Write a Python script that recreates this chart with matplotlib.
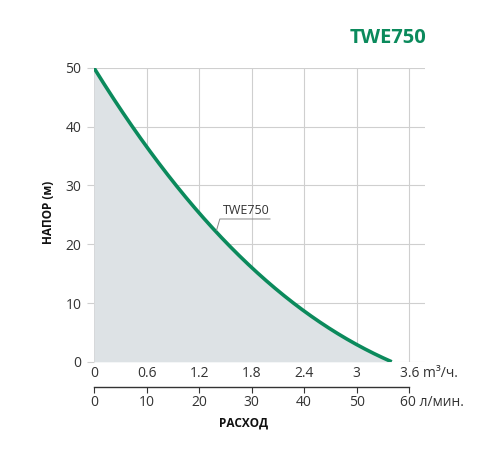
import matplotlib
matplotlib.use("Agg")
import matplotlib.pyplot as plt
import matplotlib.transforms as mtransforms
import numpy as np

# -----------------------------
# Данные кривой (м³/ч -> напор, м)
# -----------------------------
flow_m3h = [0.0, 0.3, 0.6, 0.9, 1.2, 1.5, 1.8, 2.1, 2.4, 2.7, 3.0, 3.2, 3.4]
head_m = [50.0, 43.2, 36.4, 30.7, 25.6, 20.6, 16.2, 12.2, 8.5, 5.7, 3.2, 1.8, 0.0]

x_ticks = [0, 0.6, 1.2, 1.8, 2.4, 3.0, 3.6]
x_labels = ["0", "0.6", "1.2", "1.8", "2.4", "3", "3.6 m³/ч."]
lmin_ticks = [0, 10, 20, 30, 40, 50, 60]
lmin_labels = ["0", "10", "20", "30", "40", "50", "60 л/мин."]
y_ticks = [0, 10, 20, 30, 40, 50]

MODEL = "TWE750"
GREEN = "#0b8a5c"
FILL = "#dde2e5"
GRID = "#cfcfcf"
TEXT = "#333333"

plt.rcParams["font.family"] = ["Open Sans", "DejaVu Sans"]

XMAX = 3.78


def shift_last_label(fig, axis_labels, dx_pt):
    lbl = axis_labels[-1]
    lbl.set_horizontalalignment("left")
    lbl.set_transform(lbl.get_transform()
                      + mtransforms.ScaledTranslation(dx_pt / 72, 0, fig.dpi_scale_trans))


def main():
    fig = plt.figure(figsize=(5, 4.5), dpi=100)
    ax = fig.add_axes([0.188, 0.196, 0.662, 0.653])

    # гладкая кривая по точкам
    xs = np.linspace(0, 3.4, 300)
    coef = np.polyfit(flow_m3h, head_m, 4)
    ys = np.polyval(coef, xs)
    ys = ys - np.linspace(0, 1, xs.size) * ys[-1]  # довести конец до нуля
    ys = np.clip(ys, 0, None)
    ax.fill_between(xs, ys, 0, color=FILL, lw=0, zorder=1)
    ax.plot(xs, ys, color=GREEN, lw=2.6, solid_capstyle="butt", zorder=3)

    ax.set_xlim(0, XMAX)
    ax.set_ylim(0, 50)
    ax.set_xticks(x_ticks)
    ax.set_xticklabels(x_labels)
    ax.set_yticks(y_ticks)
    ax.grid(True, color=GRID, lw=0.8, zorder=0)
    ax.set_axisbelow(True)
    for s in ax.spines.values():
        s.set_visible(False)
    ax.tick_params(axis="y", length=5, color=GRID, labelsize=10, labelcolor=TEXT, pad=4)
    ax.tick_params(axis="x", length=0, labelsize=10, labelcolor=TEXT, pad=3)
    shift_last_label(fig, ax.get_xticklabels(), -7)

    # подпись кривой
    ax.text(1.47, 24.7, MODEL, fontsize=9, color=TEXT, va="bottom", zorder=4)
    ax.plot([1.40, 1.437, 2.01], [22.4, 24.3, 24.3], color="#888888", lw=0.7, zorder=4)

    # вторая шкала л/мин
    ax2 = fig.add_axes([0.188, 0.14, 0.662, 0.001])
    ax2.set_xlim(0, XMAX / 3.6 * 60)
    ax2.set_yticks([])
    for s in ["top", "left", "right"]:
        ax2.spines[s].set_visible(False)
    ax2.spines["bottom"].set_bounds(0, 60)
    ax2.spines["bottom"].set_color(TEXT)
    ax2.spines["bottom"].set_linewidth(1.0)
    ax2.patch.set_alpha(0)
    ax2.set_xticks(lmin_ticks)
    ax2.set_xticklabels(lmin_labels)
    ax2.tick_params(axis="x", length=4, color=TEXT, labelsize=10, labelcolor=TEXT, pad=2)
    shift_last_label(fig, ax2.get_xticklabels(), -7)

    fig.text(0.776, 0.915, MODEL, color=GREEN, fontsize=14.5, fontweight="bold",
             ha="center", va="center")
    fig.text(0.096, 0.527, "НАПОР (м)", rotation=90, fontsize=8.5, fontweight="bold",
             ha="center", va="center", color="#111111")
    fig.text(0.488, 0.06, "РАСХОД", fontsize=8.5, fontweight="bold",
             ha="center", va="center", color="#111111")

    fig.savefig("out.png", dpi=100)


if __name__ == "__main__":
    main()
